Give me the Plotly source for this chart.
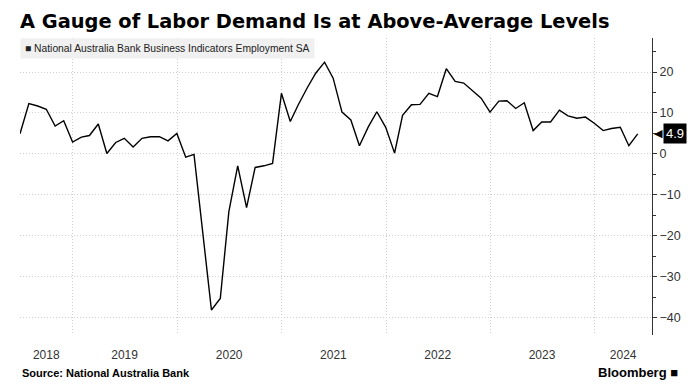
import plotly.graph_objects as go
import pandas as pd

# Monthly data, June 2018 - May 2024 (month-end)
start_month = "2018-06-30"
values_2018 = [4.9, 12.3, 11.7, 10.9, 6.8, 8.1, 2.9]
values_2019 = [4.1, 4.5, 7.3, 0.1, 2.8, 3.8, 1.7, 3.8, 4.2, 4.2, 3.2, 5.0]
values_2020 = [-0.8, -0.1, -19.0, -38.1, -35.3, -14.1, -2.9, -13.1, -3.3, -2.9, -2.3, 14.8]
values_2021 = [7.9, 12.0, 16.1, 19.7, 22.4, 18.5, 10.2, 8.3, 2.0, 6.6, 10.3, 6.5]
values_2022 = [0.2, 9.4, 12.0, 12.1, 14.8, 14.0, 20.8, 17.7, 17.3, 15.3, 13.6, 10.2]
values_2023 = [12.9, 13.0, 11.1, 12.5, 5.7, 7.8, 7.8, 10.7, 9.3, 8.7, 9.0, 7.5]
values_2024 = [5.7, 6.2, 6.5, 2.0, 4.9]

values = values_2018 + values_2019 + values_2020 + values_2021 + values_2022 + values_2023 + values_2024
dates = pd.date_range(start=start_month, periods=len(values), freq="ME")

year_labels = ["2018", "2019", "2020", "2021", "2022", "2023", "2024"]
year_label_pos = ["2018-09-30", "2019-07-01", "2020-07-01", "2021-07-01", "2022-07-01", "2023-07-01", "2024-04-10"]
year_bounds = ["2019-01-01", "2020-01-01", "2021-01-01", "2022-01-01", "2023-01-01", "2024-01-01"]
y_ticks = [-40, -30, -20, -10, 0, 10, 20]

series_name = "National Australia Bank Business Indicators Employment SA"
last_value = values[-1]

# page is offset by the browser's default 8px body margin
OFF = 8
PAGE_W, PAGE_H = 699, 391
W, H = PAGE_W - OFF, PAGE_H - OFF
# desired plot area in page pixels: x 20..652, y 38..335
L, T = 20 - OFF, 38 - OFF
R = W - (652 - OFF)
B = H - (335 - OFF)
PW, PH = W - L - R, H - T - B

def px_x(px):
    return (px - OFF - L) / PW

def px_y(py):
    return (H - B - (py - OFF)) / PH

GRID = "#cfcfcf"

fig = go.Figure()
fig.add_trace(go.Scatter(
    x=dates, y=values, mode="lines",
    line=dict(color="#000000", width=1.4),
    name=series_name, showlegend=False, hoverinfo="skip",
))

fig.update_layout(
    width=W, height=H,
    margin=dict(l=L, r=R, t=T, b=B),
    paper_bgcolor="white", plot_bgcolor="white",
    font=dict(family="Liberation Sans, sans-serif", color="#222"),
    title=dict(
        text="<b>A Gauge of Labor Demand Is at Above-Average Levels</b>",
        x=(20 - OFF) / W, xanchor="left", xref="container",
        y=1 - (21 - OFF) / H, yanchor="middle", yref="container",
        font=dict(family="DejaVu Sans, sans-serif", size=19.4, color="#000"),
    ),
    xaxis=dict(
        type="date",
        range=["2018-06-30", "2024-07-20"],
        tickmode="array", tickvals=year_label_pos, ticktext=year_labels,
        ticks="outside", ticklen=9, tickcolor="rgba(0,0,0,0)",
        showgrid=False, showline=False, zeroline=False,
        tickfont=dict(size=12, color="#333"),
        minor=dict(tickmode="array", tickvals=year_bounds, showgrid=True,
                   gridcolor=GRID, griddash="1px,2px", gridwidth=1, ticks=""),
        fixedrange=True,
    ),
    yaxis=dict(
        side="right", range=[-44.2, 28.3],
        tickmode="array", tickvals=y_ticks,
        ticks="outside", ticklen=4, tickcolor="#333",
        showline=True, linecolor="#333", linewidth=1,
        showgrid=True, gridcolor=GRID, griddash="1px,2px", gridwidth=1,
        zeroline=False,
        tickfont=dict(size=12.5, color="#333"),
        minor=dict(dtick=5, tick0=0, ticks="outside", ticklen=3, tickcolor="#333", showgrid=False),
        fixedrange=True,
    ),
)

# legend box
fig.add_annotation(
    xref="paper", yref="paper", x=0, y=1, xanchor="left", yanchor="top",
    text="■ " + series_name, showarrow=False,
    font=dict(size=10.3, color="#222", family="Liberation Sans, sans-serif"),
    bgcolor="#f0f0f0", borderpad=4, align="left",
)

# last value label with pointer
fig.add_annotation(
    xref="paper", yref="y", x=1, y=last_value, xanchor="left", yanchor="middle",
    xshift=1, text="◀", showarrow=False, borderpad=0,
    font=dict(size=11, color="#000", family="DejaVu Sans"),
)
fig.add_annotation(
    xref="paper", yref="y", x=1, y=last_value, xanchor="left", yanchor="middle",
    xshift=11, text=f"{last_value:.1f}", showarrow=False,
    font=dict(size=13, color="white", family="Liberation Sans, sans-serif"),
    bgcolor="#000", borderpad=2,
)

# footer
fig.add_annotation(
    xref="paper", yref="paper", x=px_x(20), y=px_y(373), xanchor="left", yanchor="middle",
    text="<b>Source: National Australia Bank</b>", showarrow=False,
    font=dict(size=11, color="#000", family="Liberation Sans, sans-serif"),
)
fig.add_annotation(
    xref="paper", yref="paper", x=px_x(680), y=px_y(372), xanchor="right", yanchor="middle",
    text="<b>Bloomberg ■</b>", showarrow=False,
    font=dict(size=13, color="#000", family="Liberation Sans, sans-serif"),
)

fig.write_html("out.html")
